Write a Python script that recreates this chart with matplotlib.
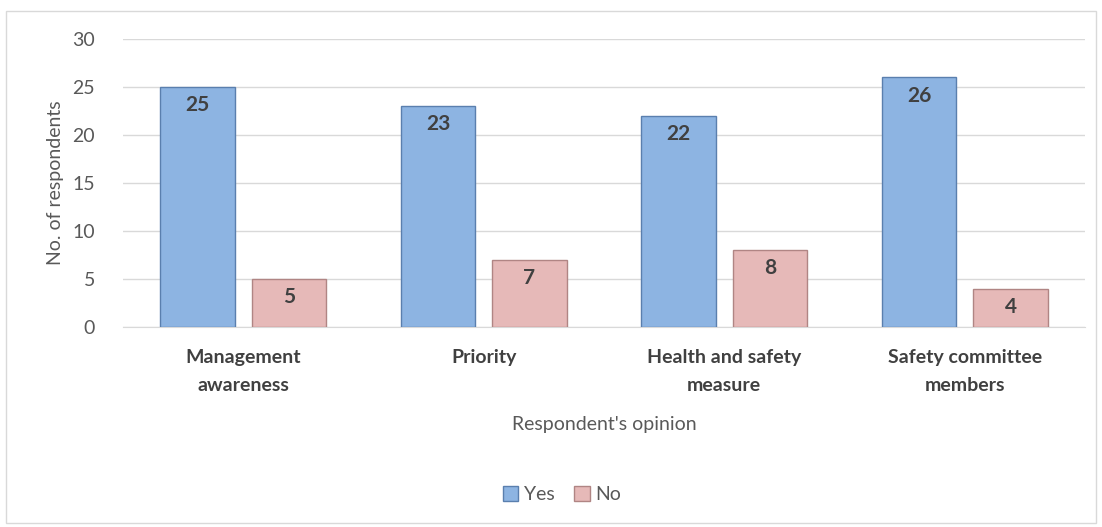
import numpy as np
import matplotlib
matplotlib.use("Agg")
import matplotlib.pyplot as plt
from matplotlib.patches import Rectangle

categories = ["Management\nawareness", "Priority", "Health and safety\nmeasure", "Safety committee\nmembers"]
yes_values = [25, 23, 22, 26]
no_values = [5, 7, 8, 4]
y_ticks = [0, 5, 10, 15, 20, 25, 30]

plt.rcParams['font.family'] = ['Lato', 'DejaVu Sans']
grey = '#595959'

fig = plt.figure(figsize=(11.02, 5.27), dpi=100)
ax = fig.add_axes([0.1116, 0.3795, 0.873, 0.5465])

# light frame around the whole chart
fig.patches.append(Rectangle((0.005, 0.008), 0.99, 0.972, transform=fig.transFigure,
                             fill=False, edgecolor='#d9d9d9', linewidth=1))

x = np.arange(len(categories))
w = 0.31
off = 0.19
b1 = ax.bar(x - off, yes_values, w, color='#8db4e2', edgecolor='#5a7fae', linewidth=1, zorder=3, label='Yes')
b2 = ax.bar(x + off, no_values, w, color='#e6b9b8', edgecolor='#b08584', linewidth=1, zorder=3, label='No')

for bars in (b1, b2):
    for r in bars:
        v = r.get_height()
        ax.text(r.get_x() + r.get_width() / 2, v - 1.9, str(int(v)), ha='center', va='center',
                fontsize=15, fontweight='bold', color='#404040', zorder=4)

ax.set_xlim(-0.5, len(categories) - 0.5)
ax.set_ylim(0, 30)
ax.set_yticks(y_ticks)
ax.set_xticks(x)
ax.set_xticklabels(categories, fontsize=14, fontweight='bold', color='#404040', linespacing=1.75)
ax.tick_params(axis='y', labelsize=14, labelcolor=grey, length=0, pad=20)
ax.tick_params(axis='x', length=0, pad=16)
ax.grid(axis='y', color='#d9d9d9', linewidth=1, zorder=0)
for s in ['top', 'right', 'left']:
    ax.spines[s].set_visible(False)
ax.spines['bottom'].set_color('#d9d9d9')

ax.set_ylabel('No. of respondents', fontsize=14, color=grey, labelpad=6)
ax.set_xlabel("Respondent's opinion", fontsize=14, color=grey, labelpad=16)

leg = fig.legend(handles=[b1, b2], labels=['Yes', 'No'], loc='center', bbox_to_anchor=(0.51, 0.062),
                 ncol=2, frameon=False, fontsize=14, handlelength=0.8, handleheight=0.8,
                 handletextpad=0.3, columnspacing=1.0, labelcolor=grey)

fig.savefig('out.png', dpi=100)
